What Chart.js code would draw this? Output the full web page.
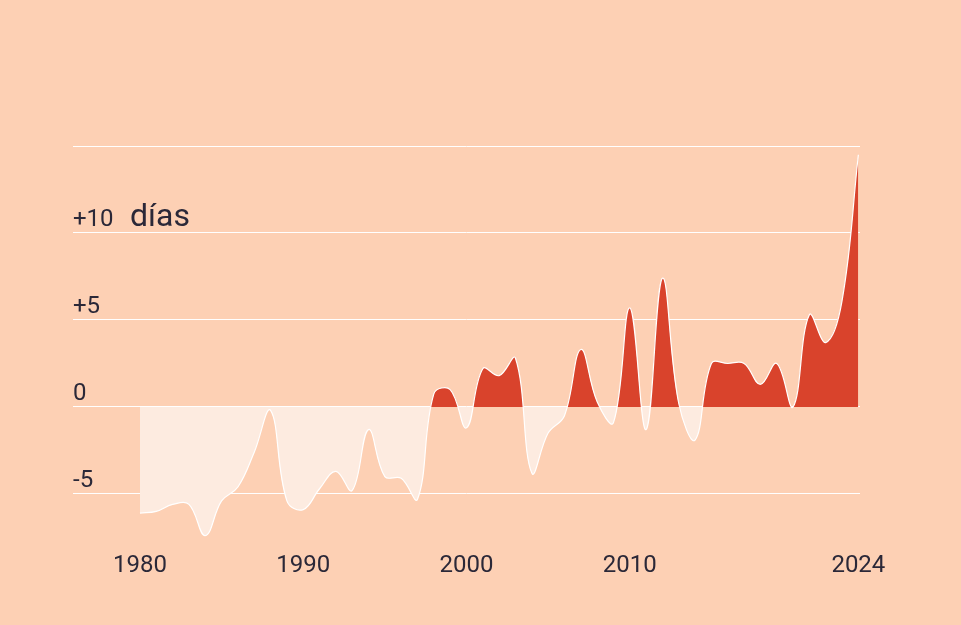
<!DOCTYPE html>
<html>
<head>
<meta charset="utf-8">
<script src="https://cdn.jsdelivr.net/npm/chart.js@4"></script>
<style>
  html, body { margin: 0; padding: 0; background: #fdd0b4; }
  #wrap { width: 961px; height: 625px; }
</style>
</head>
<body>
<div id="wrap"><canvas id="c" width="961" height="625"></canvas></div>
<script>
// días de diferencia respecto a la media, por año
const years = [];
for (let y = 1980; y <= 2024; y++) years.push(y);
const values = [
  -6.1, -6.0, -5.6, -5.6, -7.4, -5.4, -4.6, -2.6, -0.2, -5.4,
  -5.9, -4.7, -3.7, -4.8, -1.3, -4.0, -4.1, -5.3, 0.75, 1.0,
  -1.2, 2.2, 1.8, 2.8, -3.8, -1.5, -0.5, 3.3, 0.3, -0.9,
  5.7, -1.3, 7.4, 0.2, -1.9, 2.5, 2.5, 2.5, 1.3, 2.5,
  0.0, 5.3, 3.7, 6.1, 14.5
];
const xTicks = [1980, 1990, 2000, 2010, 2024];
const yTicks = [-5, 0, 5, 10];
const yTickLabels = ['-5', '0', '+5', '+10'];

const FONT = "'Roboto', sans-serif";
const INK = '#2b2838';

// etiquetas del eje Y encima de cada línea, como en el original
const yLabels = {
  id: 'yLabels',
  afterDraw(chart) {
    const { ctx, scales: { y }, chartArea } = chart;
    ctx.save();
    ctx.fillStyle = INK;
    ctx.font = `24px ${FONT}`;
    ctx.textAlign = 'left';
    ctx.textBaseline = 'alphabetic';
    yTicks.forEach((v, i) => {
      ctx.fillText(yTickLabels[i], chartArea.left, y.getPixelForValue(v) - 7);
    });
    ctx.font = `32px ${FONT}`;
    ctx.fillText('días', chartArea.left + 57, y.getPixelForValue(10) - 7);
    ctx.restore();
  }
};

new Chart(document.getElementById('c'), {
  type: 'line',
  data: {
    datasets: [{
      data: years.map((yr, i) => ({ x: yr, y: values[i] })),
      borderColor: '#ffffff',
      borderWidth: 1.2,
      pointRadius: 0,
      tension: 0.4,
      fill: { target: 'origin', above: '#d9432c', below: '#fdebe0' }
    }]
  },
  options: {
    responsive: false,
    animation: false,
    layout: { padding: { left: 73, right: 101, top: 146, bottom: 41 } },
    plugins: { legend: { display: false }, tooltip: { enabled: false } },
    scales: {
      x: {
        type: 'linear',
        min: 1975.9, max: 2024.1,
        afterBuildTicks: s => { s.ticks = xTicks.map(v => ({ value: v })); },
        ticks: { color: INK, font: { size: 24, family: FONT }, padding: 4,
                 callback: v => String(v), maxRotation: 0, autoSkip: false },
        grid: { display: false },
        border: { display: false }
      },
      y: {
        min: -7.6, max: 15,
        afterBuildTicks: s => { s.ticks = [-5, 0, 5, 10, 15].map(v => ({ value: v })); },
        ticks: { display: false },
        grid: { color: '#ffffff', lineWidth: 1, drawTicks: false },
        border: { display: false }
      }
    }
  },
  plugins: [yLabels]
});
</script>
</body>
</html>
